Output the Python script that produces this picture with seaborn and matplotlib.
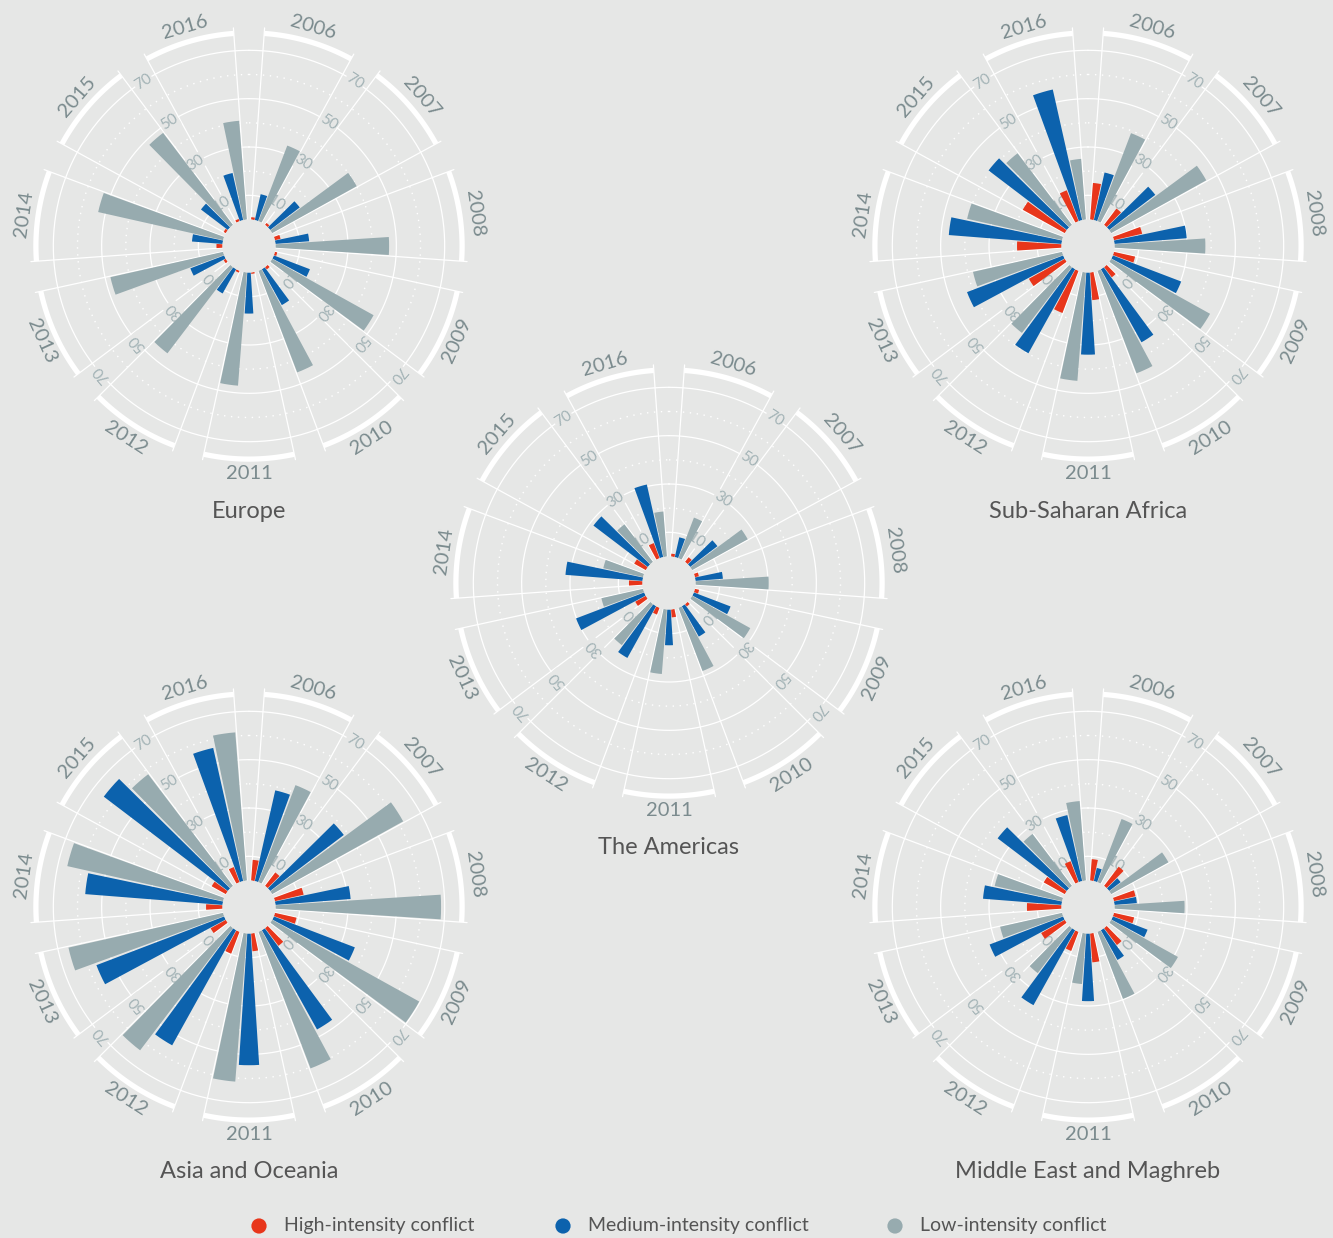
import numpy as np
import matplotlib
matplotlib.use('Agg')
import matplotlib.pyplot as plt
import seaborn as sns

# ---- data (share of conflicts) ----
years = ['2006', '2007', '2008', '2009', '2010', '2011',
         '2012', '2013', '2014', '2015', '2016']
intensity = ['High-intensity conflict', 'Medium-intensity conflict', 'Low-intensity conflict']

europe_high = [1, 1, 2.4, 1, 1.2, 0.6, 0.8, 1, 2.5, 1, 1]
europe_medium = [11, 15.4, 14, 16, 17, 17, 11.5, 15, 12.7, 14, 20]
europe_low = [33.5, 40, 47, 48, 45, 47, 44.8, 47.8, 53, 47.8, 41]

ssa_high = [15.2, 8.5, 12, 9, 5.3, 11.5, 18.7, 17, 18.4, 19.9, 13.7]
ssa_medium = [20.2, 24, 30, 30.3, 34.6, 34, 39.8, 42.6, 46.8, 40.7, 55.4]
ssa_low = [39, 45, 37.6, 46.8, 45.4, 45, 34.2, 37.8, 40.3, 37.2, 25.2]

americas_high = [1.2, 2.4, 1.7, 1.8, 1.2, 3.3, 3, 5, 5.6, 5.5, 6.7]
americas_medium = [8.4, 14.2, 11.4, 16.3, 14.4, 14.8, 24.5, 30.2, 32, 28.3, 30.8]
americas_low = [18, 26.3, 30.3, 27.5, 28, 26.8, 21.3, 17.7, 16.9, 19.5, 18.7]

asia_high = [8.6, 7, 12.2, 9.2, 9.2, 7.4, 9.7, 7.2, 6.8, 6.7, 6.7]
asia_medium = [38.5, 38.3, 31.2, 35.9, 47, 54.5, 54.5, 56.6, 57, 64.5, 56.5]
asia_low = [43, 62, 68.5, 69.6, 60.5, 61.5, 63.5, 65.6, 66.1, 58, 61.5]

mena_high = [8.9, 10, 9.2, 8.6, 8.8, 12, 8.5, 11.2, 14.3, 10, 9.3]
mena_medium = [5.6, 6, 9.3, 15.4, 14.1, 28, 35.5, 32.6, 32.6, 36, 28]
mena_low = [28, 27.1, 29, 31.6, 29.7, 21, 23.4, 26.3, 28.6, 27, 33]

regions = [
    ('Europe', (249, 246), (europe_high, europe_medium, europe_low)),
    ('Sub-Saharan Africa', (1088, 246), (ssa_high, ssa_medium, ssa_low)),
    ('The Americas', (669, 583), (americas_high, americas_medium, americas_low)),
    ('Asia and Oceania', (249, 907), (asia_high, asia_medium, asia_low)),
    ('Middle East and Maghreb', (1088, 907), (mena_high, mena_medium, mena_low)),
]

# ---- style ----
W, H = 1333, 1238
bg = '#e6e7e6'
palette = ['#e8361b', '#0c62ad', '#97abaf']
year_col = '#7b8b8e'
tick_col = '#a3b3b6'
title_col = '#555555'

sns.set_theme(style='white', rc={'figure.facecolor': bg, 'axes.facecolor': bg,
                                 'axes.edgecolor': bg, 'axes.linewidth': 0})
plt.rcParams['font.family'] = ['Lato', 'DejaVu Sans']

fig = plt.figure(figsize=(W / 100, H / 100), dpi=100)

PX = 2.417            # pixels per unit of value
HOLE = 26.5 / PX      # empty hole in the middle
RMAX = 90
rad_px = (RMAX + HOLE) * PX

step = 2 * np.pi / len(years)
sub = step / 4
circle = np.linspace(0, 2 * np.pi, 500)


def polar_chart(title, cx, cy, series):
    ax = fig.add_axes([(cx - rad_px) / W, 1 - (cy + rad_px) / H,
                       2 * rad_px / W, 2 * rad_px / H], projection='polar')
    ax.set_theta_zero_location('N')
    ax.set_theta_direction(-1)
    ax.set_rorigin(-HOLE)
    ax.set_ylim(0, RMAX)
    ax.grid(False)
    ax.set_xticks([])
    ax.set_yticks([])
    for s in ax.spines.values():
        s.set_visible(False)
    ax.patch.set_visible(False)

    # rings
    for v in [10, 30, 50, 70]:
        ax.plot(circle, np.full_like(circle, v), color='white', lw=0.9, zorder=1)
    for v in [20, 40, 60]:
        ax.plot(circle, np.full_like(circle, v), color='white', lw=1.0,
                linestyle=(0, (1, 4)), zorder=1)

    for k, yr in enumerate(years):
        a0 = k * step + sub / 2
        a1 = k * step + 3.5 * sub
        for a in (a0, a1):
            ax.plot([a, a], [0, 79.5], color='white', lw=0.9, zorder=1)
        arc = np.linspace(a0, a1, 60)
        ax.plot(arc, np.full_like(arc, 77.2), color='white', lw=3.8,
                solid_capstyle='butt', zorder=1)
        # year label along the arc
        ac = k * step + 2 * sub
        deg = np.degrees(ac)
        rot = 180 - deg if 90 < deg < 270 else -deg
        ax.text(ac, 83.3, yr, rotation=rot, rotation_mode='anchor',
                ha='center', va='center', fontsize=14.5, color=year_col)

    # bars
    for j, vals in enumerate(series):
        theta = [k * step + sub * (j + 1) for k in range(len(years))]
        ax.bar(theta, vals, width=sub * 0.9, bottom=0, color=palette[j],
               linewidth=0, zorder=3)

    # value labels on four spokes
    for m in (1, 4, 7, 10):
        a = m * step
        for v in (10, 30, 50, 70):
            ax.text(a, v, str(v), rotation=-np.degrees(a), rotation_mode='anchor',
                    ha='center', va='center', fontsize=11, color=tick_col, zorder=2,
                    bbox=dict(fc=bg, ec='none', pad=0.6))

    fig.text(cx / W, 1 - (cy + 265) / H, title, ha='center', va='center',
             fontsize=17, color=title_col)


for name, (cx, cy), series in regions:
    polar_chart(name, cx, cy, series)

# legend
lax = fig.add_axes([0, 0, 1, 1], zorder=-1)
lax.set_xlim(0, W)
lax.set_ylim(H, 0)
lax.axis('off')
legend_x = [259, 563, 895]
sns.scatterplot(x=legend_x, y=[1226] * 3, hue=intensity, palette=palette,
                s=120, edgecolor='none', legend=False, ax=lax)
for x, lab in zip(legend_x, intensity):
    lax.text(x + 25, 1226, lab, ha='left', va='center', fontsize=14, color=title_col)

fig.savefig('out.png', dpi=100, facecolor=bg)
